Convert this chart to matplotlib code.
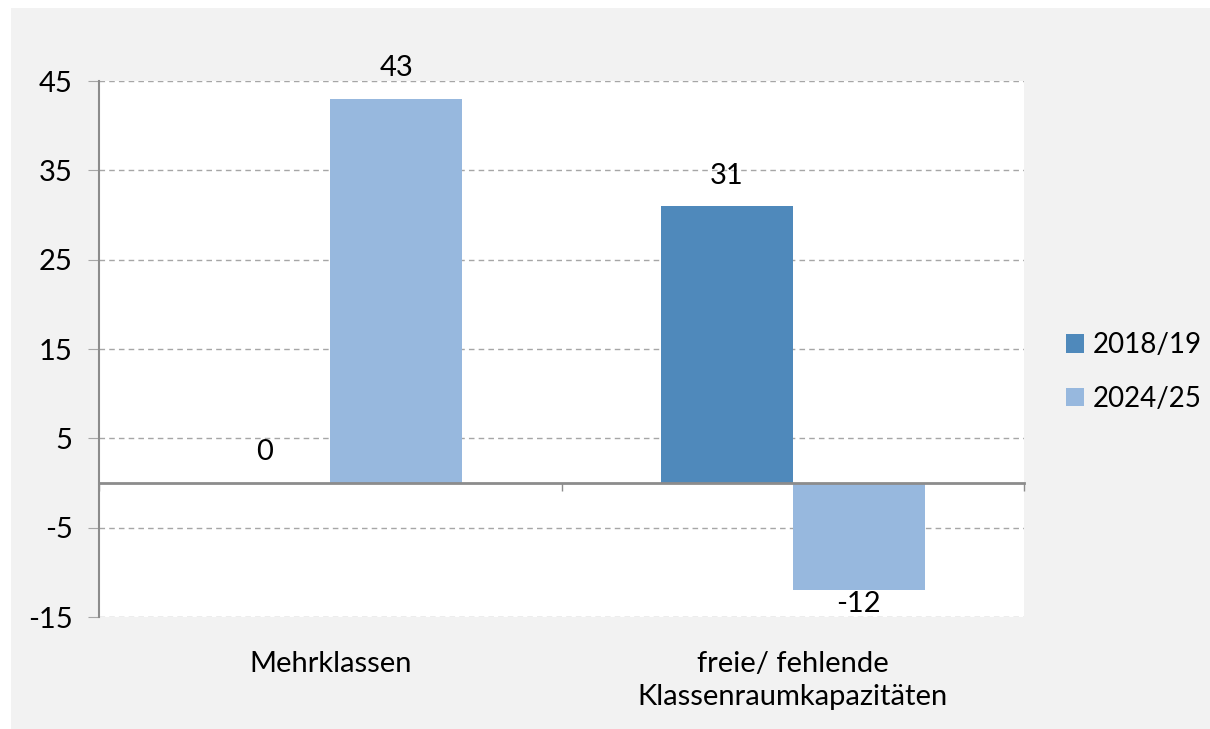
import numpy as np
import matplotlib.pyplot as plt
from matplotlib.patches import Rectangle
from matplotlib.transforms import blended_transform_factory

categories = ["Mehrklassen", "freie/ fehlende\nKlassenraumkapazitäten"]
series = ["2018/19", "2024/25"]
values_2018 = [0, 31]
values_2024 = [43, -12]
colors = ["#4f89bb", "#97b8de"]
yticks = [-15, -5, 5, 15, 25, 35, 45]

plt.rcParams['font.family'] = ['Lato', 'DejaVu Sans']
FS = 21

fig = plt.figure(figsize=(12.1, 7.29), dpi=100)
fig.patch.set_facecolor("white")
fig.patches.append(Rectangle((11 / 1210, 0), 1, 1 - 8 / 729,
                             transform=fig.transFigure, facecolor="#f2f2f2",
                             edgecolor="none", zorder=-10))

ax = fig.add_axes([99 / 1210, 112 / 729, 925 / 1210, 536 / 729])
ax.set_facecolor("white")

x = np.arange(len(categories))
w = 0.285
b1 = ax.bar(x - w / 2, values_2018, w, color=colors[0], label=series[0], zorder=3)
b2 = ax.bar(x + w / 2, values_2024, w, color=colors[1], label=series[1], zorder=3)

# value labels above / below each bar
for bars, vals in [(b1, values_2018), (b2, values_2024)]:
    for r, v in zip(bars, vals):
        cx = r.get_x() + r.get_width() / 2
        off = 22 if v >= 0 else -10
        ax.annotate(str(v), (cx, v), xytext=(0, off), textcoords="offset points",
                    ha="center", va="center", fontsize=FS)

ax.set_xlim(-0.5, 1.5)
ax.set_ylim(-15, 45)
ax.set_yticks(yticks)
ax.set_yticklabels([str(t) for t in yticks], fontsize=FS)
ax.yaxis.grid(True, linestyle=(0, (4, 3)), color="#a6a6a6", linewidth=1, zorder=0)
ax.tick_params(axis="y", length=8, color="#a6a6a6", pad=11)

for s in ["top", "right"]:
    ax.spines[s].set_visible(False)
ax.spines["left"].set_color("#8c8c8c")
ax.spines["left"].set_linewidth(1.5)
ax.spines["bottom"].set_position(("data", 0))
ax.spines["bottom"].set_color("#8c8c8c")
ax.spines["bottom"].set_linewidth(2)
ax.spines["bottom"].set_zorder(4)
ax.set_xticks([-0.5, 0.5, 1.5])
ax.set_xticklabels([])
ax.tick_params(axis="x", length=6, color="#8c8c8c", width=1)

tr = blended_transform_factory(ax.transData, ax.transAxes)
for xi, c in zip(x, categories):
    ax.text(xi, -0.064, c, transform=tr, ha="center", va="top", fontsize=FS,
            linespacing=1.3)

ax.legend(loc="center left", bbox_to_anchor=(1066 / 1210, 357 / 729),
          bbox_transform=fig.transFigure, frameon=False, fontsize=20,
          handlelength=0.65, handleheight=0.65, handletextpad=0.3,
          labelspacing=1.0, borderpad=0, borderaxespad=0)

fig.savefig("out.png", dpi=100)
